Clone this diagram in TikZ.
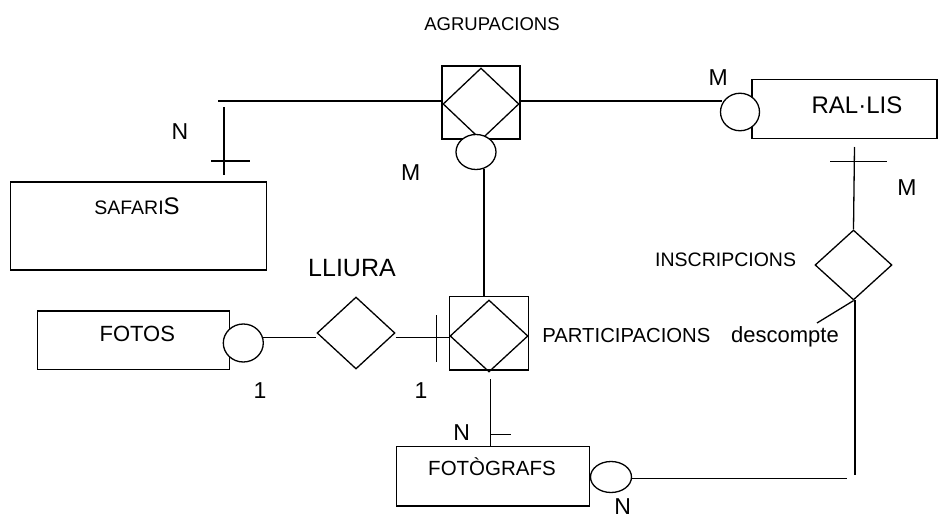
\documentclass[tikz,border=0pt]{standalone}
\usepackage{fontspec}
\setmainfont{Liberation Sans}
\usetikzlibrary{shapes.geometric}
\begin{document}
\begin{tikzpicture}[x=1pt,y=-1pt,line width=1.3pt,
  ent/.style={draw,rectangle,inner sep=0pt},
  rel/.style={draw,diamond,inner sep=0pt},
  card/.style={draw,ellipse,fill=white,inner sep=0pt},
  big/.style={inner sep=0pt,anchor=base,font=\fontsize{23}{27}\selectfont},
  sml/.style={inner sep=0pt,anchor=base,font=\fontsize{19.5}{23}\selectfont}]
\useasboundingbox[fill=white] (0,0) rectangle (938,519);

% entities
\node[ent,minimum width=256pt,minimum height=88pt] (saf) at (138.7,226) {};
\node[ent,minimum width=192pt,minimum height=58.3pt] (fotos) at (133.3,340.2) {};
\node[ent,minimum width=192.6pt,minimum height=59.3pt] (fotg) at (493,476.3) {};
\node[ent,minimum width=185pt,minimum height=59pt] (ral) at (844.5,108.8) {};

% aggregations
\node[ent,minimum width=78pt,minimum height=73pt] (agr) at (481,102.5) {};
\node[rel,minimum width=76pt,minimum height=72pt] (agrd) at (481,104) {};
\node[ent,minimum width=79pt,minimum height=73.3pt] (par) at (488.8,333.3) {};
\node[rel,minimum width=78pt,minimum height=72pt] (pard) at (489,336) {};

% relationships
\node[rel,minimum width=78pt,minimum height=72pt] (lli) at (356,333) {};
\node[rel,minimum width=77pt,minimum height=70pt] (ins) at (853.5,265) {};

% coordinates for free ends
\coordinate (s0) at (218,101);
\coordinate (s1) at (224,107);
\coordinate (s2) at (224,175);
\coordinate (sb1) at (211,161);
\coordinate (sb2) at (250,161);
\coordinate (a1) at (484,169);
\coordinate (r1) at (854.5,147);
\coordinate (rb1) at (830,161.7);
\coordinate (rb2) at (887,161.7);
\coordinate (i1) at (817,323);
\coordinate (i2) at (855,300);
\coordinate (i3) at (855,475);
\coordinate (f1) at (846.7,478.3);
\coordinate (p1) at (490.7,379);
\coordinate (pb) at (510.7,434.3);
\coordinate (lb1) at (436.7,315);
\coordinate (lb2) at (436.7,361.7);

% connectors
\draw (s0) -- (agr.west |- s0);
\draw (s1) -- (s2);
\draw (sb1) -- (sb2);
\draw (agr.east |- s0) -- (721.7,101);
\draw (a1) -- (a1 |- par.north);
\draw (r1) -- (ins.north);
\draw (rb1) -- (rb2);
\draw (ins.south) -- (i1);
\draw (i2) -- (i3);
\draw (f1) -- (631.7,478.3);
\draw (p1) -- (p1 |- fotg.north);
\draw (p1 |- pb) -- (pb);
\draw (263,337.7) -- (lli.west |- 0,337.7);
\draw (lli.east |- 0,337.7) -- (par.west |- 0,337.7);
\draw (lb1) -- (lb2);

% cardinality circles
\node[card,minimum width=40pt,minimum height=35pt] (agrc) at (476,152) {};
\node[card,minimum width=39pt,minimum height=37.5pt] (ralc) at (740,112) {};
\node[card,minimum width=40pt,minimum height=38pt] (fotc) at (243.3,343) {};
\node[card,minimum width=41pt,minimum height=31pt] (fgc) at (611,477) {};

% texts
\node[sml,font=\fontsize{18.5}{22}\selectfont] (tagr) at (492,31) {AGRUPACIONS};
\node[sml] (tsaf) at (137,214.3) {SAFARI{\fontsize{24}{28}\selectfont S}};
\node[big,font=\fontsize{25}{30}\selectfont] (tlli) at (352,276) {LLIURA};
\node[sml,anchor=base west,font=\fontsize{20.3}{24}\selectfont] (tpar) at (541.7,342.3) {PARTICIPACIONS};
\node[big,font=\fontsize{22}{26}\selectfont] (tdes) at (785,342.3) {descompte};
\node[big,font=\fontsize{22}{26}\selectfont] (tfotos) at (137.3,341.7) {FOTOS};
\node[sml,font=\fontsize{20.5}{24}\selectfont] (tfotg) at (492,475.7) {FOTÒGRAFS};
\node[big,font=\fontsize{24}{28}\selectfont] (tral) at (857,113.3) {RAL·LIS};
\node[sml,anchor=base east] (tins) at (796.7,266.7) {INSCRIPCIONS};

% cardinalities
\node[big] (n1) at (180,139.3) {N};
\node[big] (m1) at (410.7,180) {M};
\node[big] (m2) at (718.3,86) {M};
\node[big] (m3) at (907,195) {M};
\node[big] (o1) at (260,398.3) {1};
\node[big] (o2) at (421,398.3) {1};
\node[big] (n2) at (461.7,440) {N};
\node[big] (n3) at (622.7,514) {N};
\end{tikzpicture}
\end{document}
